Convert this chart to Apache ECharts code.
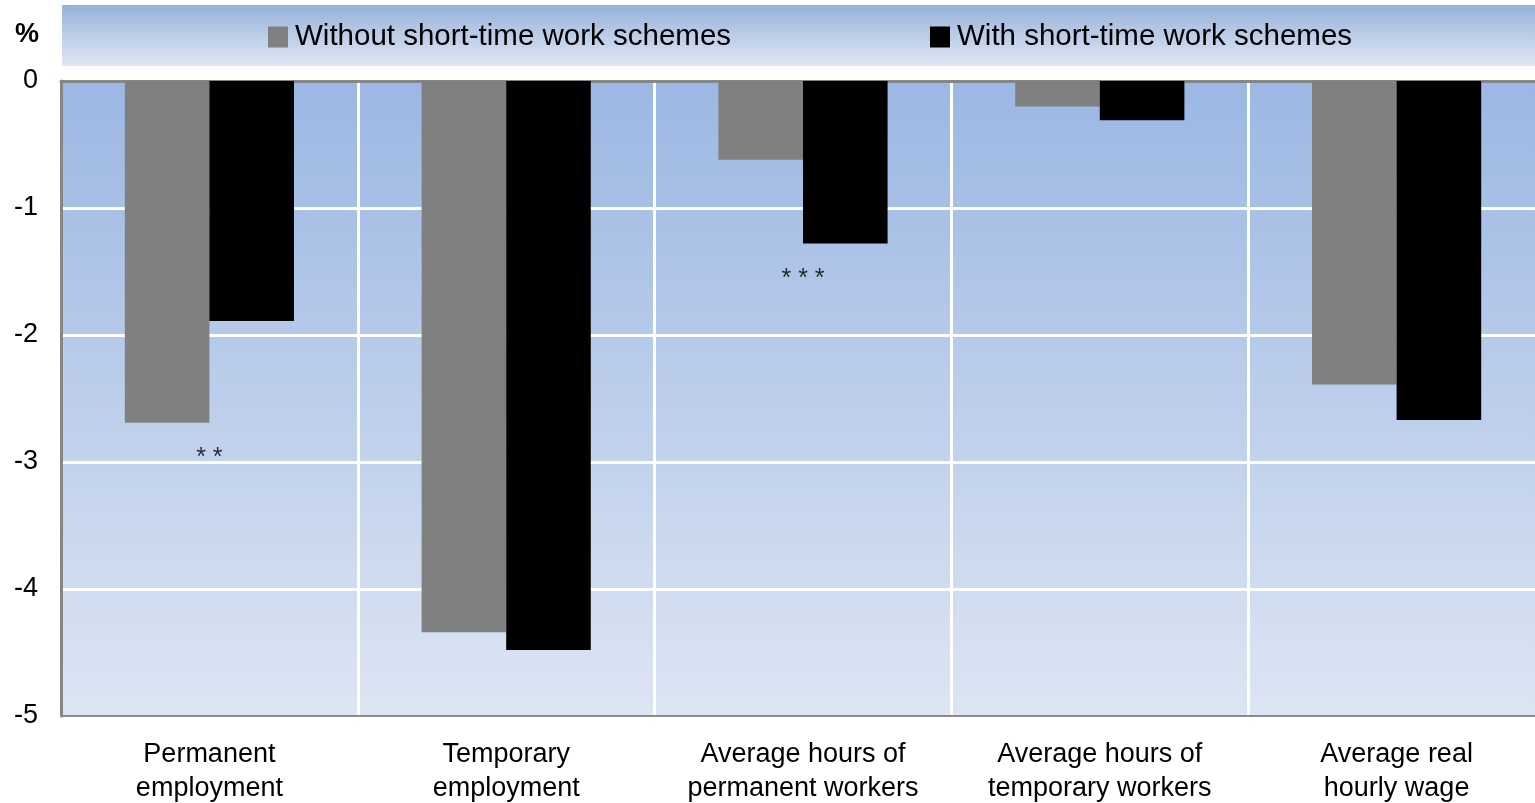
<!DOCTYPE html>
<html>
<head>
<meta charset="utf-8">
<script src="https://cdn.jsdelivr.net/npm/echarts@6/dist/echarts.min.js"></script>
<style>
    html, body { margin: 0; padding: 0; background: #fff; }
    #main { width: 1535px; height: 803px; }
</style>
</head>
<body>
<div id="main"></div>
<script>
// categories and values (%)
var categories = ['Permanent\nemployment', 'Temporary\nemployment', 'Average hours of\npermanent workers',
    'Average hours of\ntemporary workers', 'Average real\nhourly wage'];
var seriesNames = ['Without short-time work schemes', 'With short-time work schemes'];
var withoutSTW = [-2.69, -4.34, -0.62, -0.20, -2.39];
var withSTW = [-1.89, -4.48, -1.28, -0.31, -2.67];
// significance stars under each category
var stars = ['* *', '', '* * *', '', ''];
var yTicks = [0, -1, -2, -3, -4, -5];

var FONT = "'Liberation Sans', Arial, sans-serif";

// stars sit under the lower bar of each pair
var starData = [];
for (var i = 0; i < categories.length; i++) {
    if (stars[i]) {
        starData.push({value: [i, Math.min(withoutSTW[i], withSTW[i])], label: {formatter: stars[i]}});
    }
}

var dom = document.getElementById('main');
var myChart = echarts.init(dom);
var option = {
    backgroundColor: '#ffffff',
    animation: false,
    textStyle: { fontFamily: FONT },
    graphic: [
        {
            // legend band
            type: 'rect',
            left: 62, top: 5,
            shape: { width: 1473, height: 61 },
            style: {
                fill: new echarts.graphic.LinearGradient(0, 0, 0, 1, [
                    {offset: 0, color: '#97b2d9'},
                    {offset: 1, color: '#e0e7f5'}
                ])
            },
            z: -1
        },
        {
            type: 'text',
            left: 15, top: 21,
            style: { text: '%', fontSize: 27, fontWeight: 'bold', fill: '#000', fontFamily: FONT }
        }
    ],
    legend: [
        {
            data: [seriesNames[0]],
            left: 263, top: 17,
            icon: 'rect', itemWidth: 20, itemHeight: 21, itemGap: 6,
            textStyle: { fontSize: 29.5, color: '#000', fontFamily: FONT, padding: [0, 0, 0, 2] }
        },
        {
            data: [seriesNames[1]],
            left: 925, top: 17,
            icon: 'rect', itemWidth: 20, itemHeight: 21, itemGap: 6,
            textStyle: { fontSize: 29.5, color: '#000', fontFamily: FONT, padding: [0, 0, 0, 2] }
        }
    ],
    grid: {
        left: 61, right: -10, top: 81, bottom: 87,
        containLabel: false,
        outerBoundsMode: 'none',
        show: true,
        borderWidth: 0,
        backgroundColor: new echarts.graphic.LinearGradient(0, 0, 0, 1, [
            {offset: 0, color: '#9bb7e3'},
            {offset: 1, color: '#dde5f3'}
        ])
    },
    xAxis: [
        {
            type: 'category',
            data: categories,
            position: 'bottom',
            axisLine: { show: true, onZero: false, lineStyle: { color: '#8c8c8c', width: 2 } },
            axisTick: { show: false },
            splitLine: { show: true, lineStyle: { color: '#ffffff', width: 3 } },
            axisLabel: {
                interval: 0, margin: 22,
                fontSize: 27, lineHeight: 34, color: '#000', fontFamily: FONT
            }
        },
        {
            type: 'category',
            data: categories,
            position: 'top',
            axisLine: { show: true, onZero: false, lineStyle: { color: '#868686', width: 3 } },
            axisTick: { show: false },
            axisLabel: { show: false }
        }
    ],
    yAxis: {
        type: 'value',
        min: -5, max: 0, interval: 1,
        axisLine: { show: true, lineStyle: { color: '#868686', width: 3 } },
        axisTick: { show: false },
        splitLine: { show: true, lineStyle: { color: '#ffffff', width: 3 } },
        axisLabel: {
            margin: 23, fontSize: 27, color: '#000', fontFamily: FONT,
            customValues: yTicks
        }
    },
    series: [
        {
            name: seriesNames[0],
            type: 'bar',
            data: withoutSTW,
            barGap: '0%',
            barCategoryGap: '43%',
            itemStyle: { color: '#808080' }
        },
        {
            name: seriesNames[1],
            type: 'bar',
            data: withSTW,
            itemStyle: { color: '#000000' }
        },
        {
            name: 'stars',
            type: 'scatter',
            data: starData,
            symbolSize: 0,
            silent: true,
            label: {
                show: true, position: 'bottom', distance: 23,
                fontSize: 25, color: '#000', fontFamily: FONT
            },
            z: 5
        }
    ]
};

if (option && typeof option === "object") {
    myChart.setOption(option, true);
}
</script>
</body>
</html>
